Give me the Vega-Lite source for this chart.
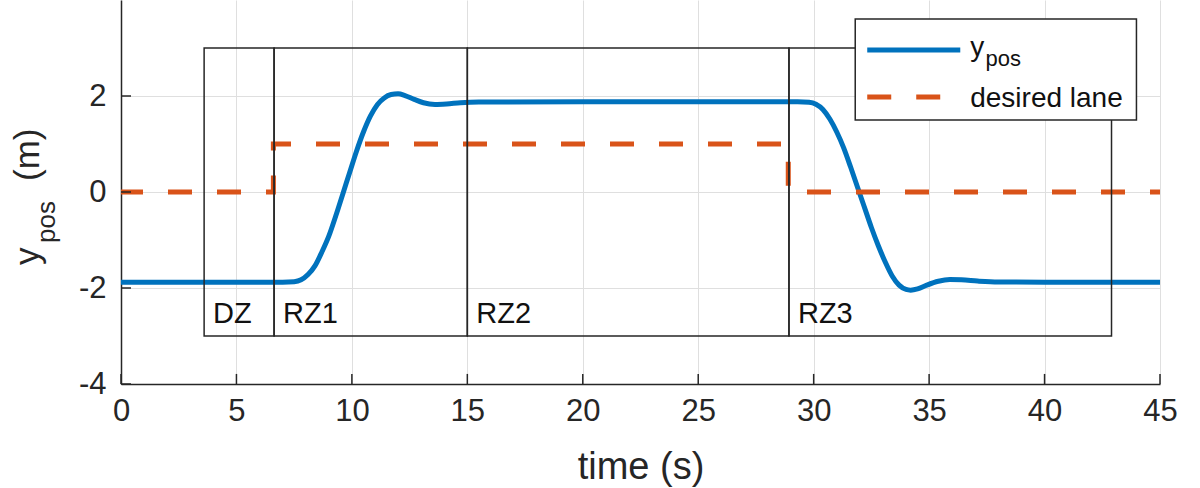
{
  "$schema": "https://vega.github.io/schema/vega-lite/v6.json",
  "width": 1039,
  "height": 384,
  "autosize": {"type": "none"},
  "padding": {"left": 121, "top": 0, "right": 40, "bottom": 104},
  "background": "white",
  "config": {
    "view": {"stroke": null},
    "font": "Liberation Sans",
    "axis": {
      "domainColor": "#262626",
      "domainWidth": 1.5,
      "ticks": false,
      "gridColor": "#dfdfdf",
      "gridWidth": 1,
      "labelColor": "#262626",
      "labelFontSize": 31,
      "labelFont": "Liberation Sans",
      "titleFont": "Liberation Sans",
      "titleColor": "#262626",
      "titleFontSize": 38,
      "titleFontWeight": "normal"
    }
  },
  "datasets": {
    "ypos": [
      {"t": 0, "v": -1.88},
      {"t": 5, "v": -1.88},
      {"t": 7.0, "v": -1.88},
      {"t": 7.5, "v": -1.87},
      {"t": 7.8, "v": -1.83},
      {"t": 8.1, "v": -1.72},
      {"t": 8.4, "v": -1.54},
      {"t": 8.7, "v": -1.25},
      {"t": 9.0, "v": -0.92},
      {"t": 9.3, "v": -0.5},
      {"t": 9.6, "v": -0.05},
      {"t": 9.9, "v": 0.4},
      {"t": 10.2, "v": 0.85},
      {"t": 10.5, "v": 1.25},
      {"t": 10.8, "v": 1.58},
      {"t": 11.1, "v": 1.82},
      {"t": 11.4, "v": 1.96},
      {"t": 11.7, "v": 2.03},
      {"t": 12.0, "v": 2.045},
      {"t": 12.3, "v": 2.01},
      {"t": 12.7, "v": 1.93},
      {"t": 13.1, "v": 1.86},
      {"t": 13.6, "v": 1.825},
      {"t": 14.1, "v": 1.835},
      {"t": 14.7, "v": 1.86},
      {"t": 15.5, "v": 1.875},
      {"t": 20, "v": 1.88},
      {"t": 25, "v": 1.88},
      {"t": 29.3, "v": 1.88},
      {"t": 29.8, "v": 1.87},
      {"t": 30.1, "v": 1.83},
      {"t": 30.4, "v": 1.72},
      {"t": 30.7, "v": 1.52},
      {"t": 31.0, "v": 1.25},
      {"t": 31.3, "v": 0.92},
      {"t": 31.6, "v": 0.52},
      {"t": 31.9, "v": 0.1},
      {"t": 32.2, "v": -0.32},
      {"t": 32.5, "v": -0.74},
      {"t": 32.8, "v": -1.12},
      {"t": 33.1, "v": -1.46},
      {"t": 33.4, "v": -1.75},
      {"t": 33.7, "v": -1.94},
      {"t": 34.0, "v": -2.03},
      {"t": 34.2, "v": -2.045},
      {"t": 34.5, "v": -2.02},
      {"t": 34.9, "v": -1.94},
      {"t": 35.4, "v": -1.86},
      {"t": 35.9, "v": -1.825},
      {"t": 36.4, "v": -1.83},
      {"t": 37.1, "v": -1.855},
      {"t": 38.0, "v": -1.875},
      {"t": 40, "v": -1.88},
      {"t": 45, "v": -1.88}
    ],
    "lane": [
      {"t": 0, "v": 0},
      {"t": 6.6, "v": 0},
      {"t": 6.6, "v": 1},
      {"t": 28.9, "v": 1},
      {"t": 28.9, "v": 0},
      {"t": 45, "v": 0}
    ],
    "zones": [
      {"zone": "DZ", "start": 3.6, "end": 6.63},
      {"zone": "RZ1", "start": 6.63, "end": 15.0},
      {"zone": "RZ2", "start": 15.0, "end": 28.93},
      {"zone": "RZ3", "start": 28.93, "end": 42.9}
    ],
    "xticks": [
      {"t": 0}, {"t": 5}, {"t": 10}, {"t": 15}, {"t": 20},
      {"t": 25}, {"t": 30}, {"t": 35}, {"t": 40}, {"t": 45}
    ],
    "yticks": [
      {"v": -4}, {"v": -2}, {"v": 0}, {"v": 2}
    ]
  },
  "layer": [
    {
      "data": {"name": "ypos"},
      "mark": {"type": "line", "color": "#0072BD", "strokeWidth": 5, "interpolate": "monotone"},
      "encoding": {
        "x": {"field": "t", "type": "quantitative", "scale": {"domain": [0, 45], "nice": false, "zero": false},
          "axis": {"values": [0, 5, 10, 15, 20, 25, 30, 35, 40, 45], "grid": true, "labelPadding": 12, "title": "time (s)", "titlePadding": 22, "labelFlush": false, "labelExpr": "'' + datum.value"}},
        "y": {"field": "v", "type": "quantitative", "scale": {"domain": [-4, 4], "nice": false, "zero": false},
          "axis": {"values": [-4, -2, 0, 2], "grid": true, "labelPadding": 15, "title": null, "labelFlush": false, "labelExpr": "'' + datum.value"}}
      }
    },
    {
      "data": {"name": "lane"},
      "mark": {"type": "line", "color": "#D95319", "strokeWidth": 5, "strokeDash": [24, 25], "strokeDashOffset": 2, "strokeCap": "butt"},
      "encoding": {
        "x": {"field": "t", "type": "quantitative"},
        "y": {"field": "v", "type": "quantitative"}
      }
    },
    {
      "data": {"name": "xticks"},
      "mark": {"type": "rule", "color": "#262626", "strokeWidth": 1.5},
      "encoding": {
        "x": {"field": "t", "type": "quantitative"},
        "y": {"datum": -4},
        "y2": {"datum": -3.79}
      }
    },
    {
      "data": {"name": "yticks"},
      "mark": {"type": "rule", "color": "#262626", "strokeWidth": 1.5},
      "encoding": {
        "y": {"field": "v", "type": "quantitative"},
        "x": {"datum": 0},
        "x2": {"datum": 0.433}
      }
    },
    {
      "data": {"name": "zones"},
      "mark": {"type": "rect", "fill": null, "fillOpacity": 0, "stroke": "#262626", "strokeWidth": 1.5},
      "encoding": {
        "x": {"field": "start", "type": "quantitative"},
        "x2": {"field": "end"},
        "y": {"datum": -3},
        "y2": {"datum": 3}
      }
    },
    {
      "data": {"name": "zones"},
      "mark": {"type": "text", "align": "left", "baseline": "alphabetic", "dx": 9, "dy": -13, "fontSize": 29, "color": "#111111"},
      "encoding": {
        "x": {"field": "start", "type": "quantitative"},
        "y": {"datum": -3},
        "text": {"field": "zone"}
      }
    },
    {
      "data": {"values": [{}]},
      "mark": {"type": "rect", "fill": "white", "stroke": "#262626", "strokeWidth": 1.5},
      "encoding": {
        "x": {"datum": 31.8},
        "x2": {"datum": 43.98},
        "y": {"datum": 1.5},
        "y2": {"datum": 3.604}
      }
    },
    {
      "data": {"values": [{"t": 32.32, "v": 2.958}, {"t": 36.35, "v": 2.958}]},
      "mark": {"type": "line", "color": "#0072BD", "strokeWidth": 5},
      "encoding": {
        "x": {"field": "t", "type": "quantitative"},
        "y": {"field": "v", "type": "quantitative"}
      }
    },
    {
      "data": {"values": [{"t": 32.32, "v": 1.979}, {"t": 36.35, "v": 1.979}]},
      "mark": {"type": "line", "color": "#D95319", "strokeWidth": 5, "strokeDash": [24, 25], "strokeCap": "butt"},
      "encoding": {
        "x": {"field": "t", "type": "quantitative"},
        "y": {"field": "v", "type": "quantitative"}
      }
    },
    {
      "data": {"values": [
        {"label": "y", "t": 36.78, "v": 2.833, "size": 28},
        {"label": "pos", "t": 37.44, "v": 2.625, "size": 22},
        {"label": "desired lane", "t": 36.78, "v": 1.771, "size": 28}
      ]},
      "mark": {"type": "text", "align": "left", "baseline": "alphabetic", "color": "#111111"},
      "encoding": {
        "x": {"field": "t", "type": "quantitative"},
        "y": {"field": "v", "type": "quantitative"},
        "text": {"field": "label"},
        "size": {"field": "size", "type": "quantitative", "scale": null, "legend": null}
      }
    },
    {
      "data": {"values": [
        {"label": "y", "t": -3.553, "v": -1.521, "size": 35},
        {"label": "pos", "t": -2.86, "v": -1.0625, "size": 26},
        {"label": "(m)", "t": -3.553, "v": 0.229, "size": 35}
      ]},
      "mark": {"type": "text", "align": "left", "baseline": "alphabetic", "angle": 270, "color": "#262626"},
      "encoding": {
        "x": {"field": "t", "type": "quantitative"},
        "y": {"field": "v", "type": "quantitative"},
        "text": {"field": "label"},
        "size": {"field": "size", "type": "quantitative", "scale": null, "legend": null}
      }
    }
  ]
}
